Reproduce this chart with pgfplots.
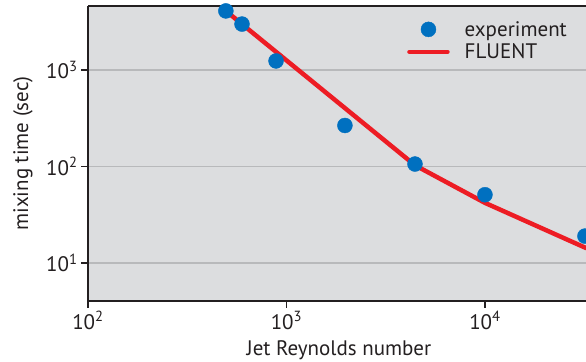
\documentclass[border=0pt]{standalone}
\usepackage{fontspec}
\setmainfont{PT Sans}
\usepackage{pgfplots}
\pgfplotsset{compat=1.18}
\definecolor{bgc}{RGB}{220,221,223}
\definecolor{gridc}{RGB}{184,185,187}
\definecolor{dotc}{RGB}{0,112,192}
\definecolor{linec}{RGB}{237,28,36}
\definecolor{txt}{RGB}{35,31,32}
\pgfplotsset{
  dotlegend/.style={legend image code/.code={\draw[mark repeat=2,mark phase=2,##1] plot coordinates {(0bp,0bp) (19bp,0bp) (38bp,0bp)};}},
  linelegend/.style={legend image code/.code={\draw[##1] (0bp,0bp) -- (38bp,0bp);}},
}
\begin{document}
\begin{tikzpicture}[font=\fontsize{21bp}{25bp}\selectfont, text=txt]
\begin{axis}[
  xmode=log, ymode=log,
  scale only axis, width=498bp, height=295bp,
  xmin=100, xmax=32300, ymin=4.04, ymax=4600,
  axis background/.style={fill=bgc},
  axis x line=box, axis y line=left,
  axis line style={-, line width=1.6bp, color=txt},
  xtick={100,1000,10000},
  xticklabels={10\textsuperscript{2},10\textsuperscript{3},10\textsuperscript{4}},
  ytick={10,100,1000},
  yticklabels={10\textsuperscript{1},10\textsuperscript{2},10\textsuperscript{3}},
  minor tick style={draw=none}, minor tick length=0pt,
  xtick pos=left, ytick pos=left,
  tick align=outside, major tick length=7bp,
  tick style={line width=1.6bp, color=txt},
  ymajorgrids, grid style={line width=1.3bp, color=gridc},
  xlabel={Jet Reynolds number},
  ylabel={mixing time (sec)},
  xlabel style={at={(rel axis cs:0.504,-0.1864)}, anchor=base},
  ylabel style={at={(rel axis cs:-0.1305,0.5)}, anchor=center},
  clip=false,
  legend cell align=left,
  legend style={draw=none, fill=none, at={(rel axis cs:0.6406,0.9525)}, anchor=north west,
    inner sep=0pt, row sep=4bp, nodes={inner sep=1bp},
    /tikz/every odd column/.append style={column sep=14bp}},
]
\addplot[only marks, mark=*, mark size=7.5bp, color=dotc, dotlegend]
  coordinates {(495,4090) (597,2990) (886,1240) (1970,266) (4440,106) (10000,51) (31900,19)};
\addlegendentry{experiment}
\addplot[line width=4.5bp, color=linec, line cap=round, line join=round, linelegend]
  coordinates {(495,4090) (4440,103) (10000,42) (32300,14.3)};
\addlegendentry{FLUENT}
\end{axis}
\pgfresetboundingbox
\path[use as bounding box] (-88bp,-61bp) rectangle (498bp,301bp);
\end{tikzpicture}
\end{document}
